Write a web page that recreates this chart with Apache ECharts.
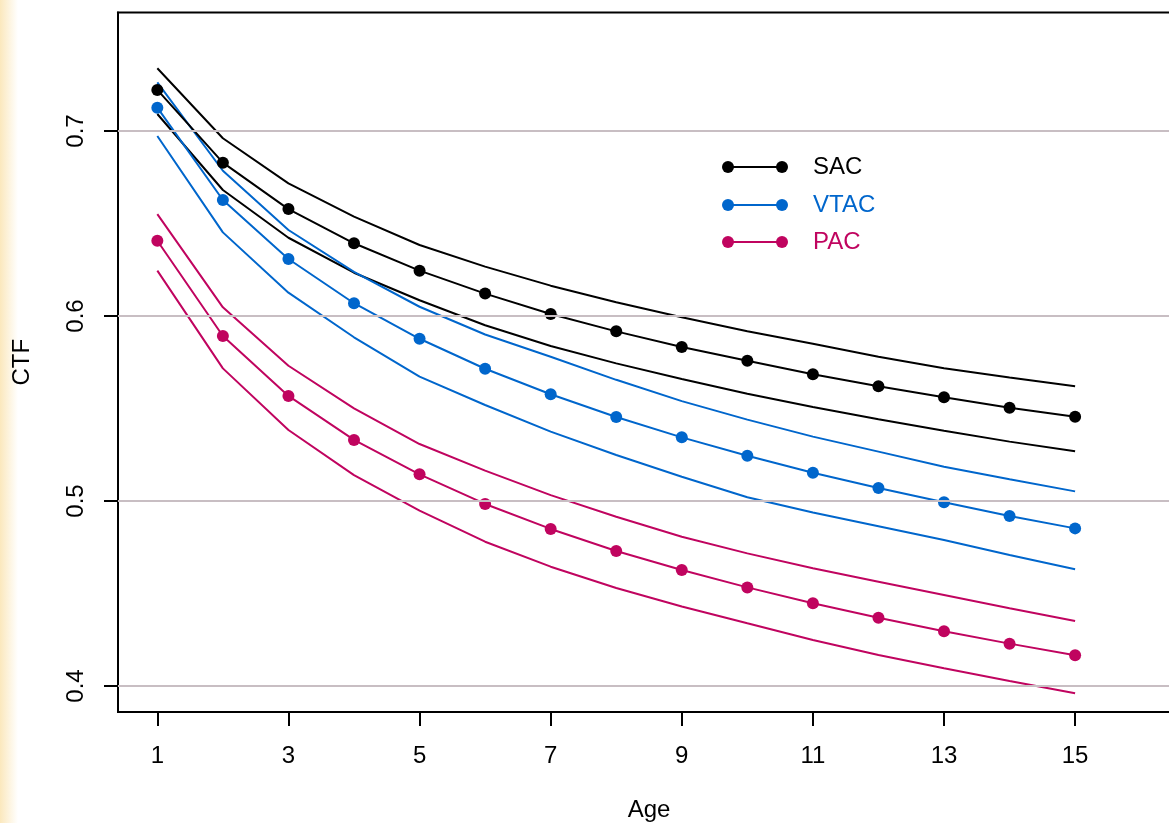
<!DOCTYPE html>
<html>
<head>
<meta charset="utf-8">
<title>CTF by Age</title>
<script src="https://cdn.jsdelivr.net/npm/echarts@6/dist/echarts.min.js"></script>
<style>
    html, body { margin: 0; padding: 0; background: #fff; }
    #chart { width: 1169px; height: 823px; }
</style>
</head>
<body>
<div id="chart"></div>
<script>
// x values and the tick labels on each axis
var ages = [1, 2, 3, 4, 5, 6, 7, 8, 9, 10, 11, 12, 13, 14, 15];
var xTicks = [1, 3, 5, 7, 9, 11, 13, 15];
var yTicks = [0.4, 0.5, 0.6, 0.7];

// SAC: estimate with lower / upper band
var sacMid = [0.7222, 0.6829, 0.6578, 0.6393, 0.6245, 0.6121, 0.6011, 0.5917, 0.5832, 0.5758, 0.5685, 0.5620, 0.5561, 0.5504, 0.5456];
var sacHi  = [0.7339, 0.6961, 0.6717, 0.6537, 0.6384, 0.6267, 0.6164, 0.6074, 0.5993, 0.5918, 0.5850, 0.5780, 0.5717, 0.5667, 0.5620];
var sacLo  = [0.7092, 0.6681, 0.6423, 0.6234, 0.6085, 0.5950, 0.5838, 0.5744, 0.5659, 0.5580, 0.5508, 0.5442, 0.5380, 0.5321, 0.5269];

// VTAC
var vtacMid = [0.7126, 0.6627, 0.6308, 0.6069, 0.5877, 0.5715, 0.5577, 0.5454, 0.5344, 0.5245, 0.5153, 0.5070, 0.4993, 0.4919, 0.4852];
var vtacHi  = [0.7263, 0.6785, 0.6465, 0.6239, 0.6050, 0.5900, 0.5780, 0.5655, 0.5540, 0.5440, 0.5348, 0.5267, 0.5185, 0.5117, 0.5052];
var vtacLo  = [0.6973, 0.6452, 0.6126, 0.5885, 0.5672, 0.5519, 0.5375, 0.5249, 0.5131, 0.5020, 0.4938, 0.4863, 0.4789, 0.4708, 0.4631];

// PAC
var pacMid = [0.6407, 0.5892, 0.5568, 0.5330, 0.5144, 0.4984, 0.4849, 0.4730, 0.4627, 0.4533, 0.4447, 0.4369, 0.4296, 0.4229, 0.4166];
var pacHi  = [0.6551, 0.6047, 0.5731, 0.5501, 0.5308, 0.5164, 0.5032, 0.4915, 0.4807, 0.4717, 0.4636, 0.4564, 0.4492, 0.4420, 0.4351];
var pacLo  = [0.6245, 0.5717, 0.5384, 0.5140, 0.4948, 0.4780, 0.4645, 0.4530, 0.4430, 0.4339, 0.4249, 0.4168, 0.4096, 0.4027, 0.3961];

var legendNames = ['SAC', 'VTAC', 'PAC'];

var BLACK = '#000000', BLUE = '#0066CC', MAGENTA = '#C0045F';
var legendColors = [BLACK, BLUE, MAGENTA];
var FONT = 'Liberation Sans, Arial, sans-serif';
var FS = 24;

var pairs = function (ys) {
    return ages.map(function (a, i) { return [a, ys[i]]; });
};

var bandLine = function (name, ys, color) {
    return {
        name: name,
        type: 'line',
        data: pairs(ys),
        symbol: 'none',
        z: 3,
        lineStyle: { color: color, width: 2 },
        itemStyle: { color: color }
    };
};

var midLine = function (name, ys, color) {
    return {
        name: name,
        type: 'line',
        data: pairs(ys),
        symbol: 'circle',
        symbolSize: 12,
        showAllSymbol: true,
        z: 4,
        lineStyle: { color: color, width: 2 },
        itemStyle: { color: color }
    };
};

// legend drawn by hand: R style "o---o  name"
var legendGraphics = function () {
    var out = [];
    var rowsY = [167, 205, 242];
    legendNames.forEach(function (name, i) {
        var y = rowsY[i], c = legendColors[i];
        out.push({ type: 'line', z: 10, shape: { x1: 728, y1: y, x2: 782, y2: y }, style: { stroke: c, lineWidth: 2 } });
        out.push({ type: 'circle', z: 10, shape: { cx: 728, cy: y, r: 6 }, style: { fill: c } });
        out.push({ type: 'circle', z: 10, shape: { cx: 782, cy: y, r: 6 }, style: { fill: c } });
        out.push({ type: 'text', z: 10, x: 813, y: y, style: {
            text: name, fill: c, font: FS + 'px ' + FONT, align: 'left', verticalAlign: 'middle'
        } });
    });
    return out;
};

var myChart = echarts.init(document.getElementById('chart'));

var options = {
    animation: false,
    backgroundColor: '#ffffff',
    graphic: [{
        type: 'rect',
        left: 0, top: 0, z: -1,
        shape: { width: 18, height: 823 },
        style: {
            fill: new echarts.graphic.LinearGradient(0, 0, 1, 0, [
                { offset: 0, color: '#fbe8bd' },
                { offset: 1, color: '#ffffff' }
            ])
        }
    }].concat(legendGraphics()),
    grid: {
        left: 118, top: 12.6, width: 1062, height: 699.3,
        outerBoundsMode: 'none',
        show: true, borderColor: BLACK, borderWidth: 2
    },
    xAxis: {
        type: 'value',
        min: 0.4, max: 16.6,
        name: 'Age',
        nameLocation: 'middle',
        nameGap: 86,
        nameTextStyle: { fontFamily: FONT, fontSize: FS, color: BLACK },
        axisLine: { show: true, onZero: false, lineStyle: { color: BLACK, width: 2 } },
        axisTick: { show: true, customValues: xTicks, length: 14, lineStyle: { color: BLACK, width: 2 } },
        axisLabel: { customValues: xTicks, margin: 32, fontFamily: FONT, fontSize: FS, color: BLACK },
        splitLine: { show: false }
    },
    yAxis: {
        type: 'value',
        min: 0.386, max: 0.764,
        name: 'CTF',
        nameLocation: 'middle',
        nameGap: 84,
        nameRotate: 90,
        nameTextStyle: { fontFamily: FONT, fontSize: FS, color: BLACK },
        axisLine: { show: true, onZero: false, lineStyle: { color: BLACK, width: 2 } },
        axisTick: { show: true, customValues: yTicks, length: 14, lineStyle: { color: BLACK, width: 2 } },
        axisLabel: { customValues: yTicks, rotate: 90, margin: 30, fontFamily: FONT, fontSize: FS, color: BLACK },
        splitLine: { show: false }
    },
    series: [
        {
            name: 'grid',
            type: 'line',
            data: [],
            z: 1,
            silent: true,
            markLine: {
                silent: true,
                symbol: 'none',
                label: { show: false },
                lineStyle: { color: '#c8bec3', width: 2, type: 'solid' },
                data: yTicks.map(function (v) { return { yAxis: v }; })
            }
        },
        bandLine('SAC upper', sacHi, BLACK),
        bandLine('SAC lower', sacLo, BLACK),
        bandLine('VTAC upper', vtacHi, BLUE),
        bandLine('VTAC lower', vtacLo, BLUE),
        bandLine('PAC upper', pacHi, MAGENTA),
        bandLine('PAC lower', pacLo, MAGENTA),
        midLine('SAC', sacMid, BLACK),
        midLine('VTAC', vtacMid, BLUE),
        midLine('PAC', pacMid, MAGENTA)
    ]
};

myChart.setOption(options);
</script>
</body>
</html>
